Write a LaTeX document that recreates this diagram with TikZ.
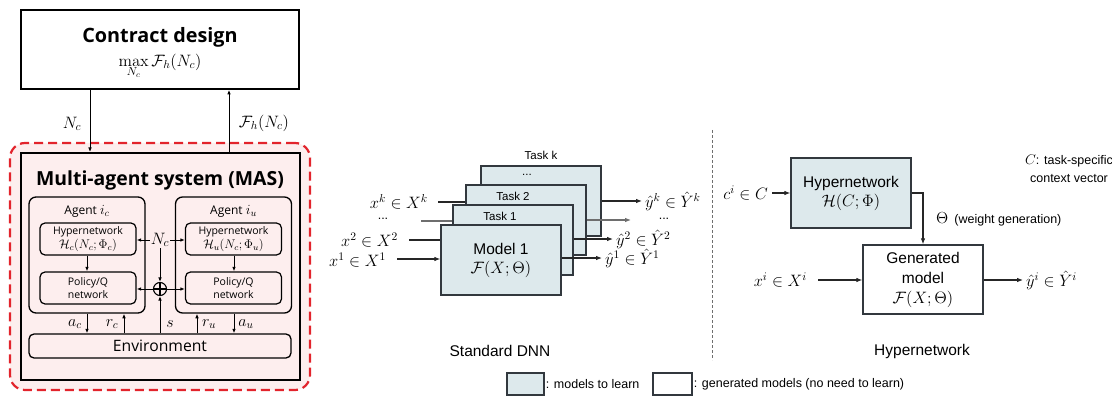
\RequirePackage{fix-cm}
\documentclass[tikz,border=0pt]{standalone}
\usepackage[no-math]{fontspec}
\setmainfont{Liberation Sans}
\newfontfamily\lf{Open Sans}
\usetikzlibrary{arrows.meta,backgrounds}
\definecolor{bluef}{RGB}{221,233,236}
\definecolor{boxc}{RGB}{50,56,62}
\definecolor{pinkf}{RGB}{253,238,238}
\definecolor{redd}{RGB}{226,36,44}
\definecolor{lineg}{RGB}{110,110,110}
\newcommand{\mfs}{\fontsize{12.5}{13.5}\selectfont}
\begin{document}
\begin{tikzpicture}[x=1pt,y=-1pt,
  arr/.style={-{Latex[length=6pt,width=4.6pt]},line width=1.1pt,draw=black!85},
  sarr/.style={-{Latex[length=4.6pt,width=3.6pt]},line width=1pt},
  learn/.style={draw=boxc,fill=bluef,line width=1.4pt,inner sep=1pt,minimum width=120pt,minimum height=70pt,align=center,font=\fontsize{15.5}{19}\selectfont},
  genbox/.style={draw=boxc,fill=white,line width=1.4pt,inner sep=1pt,minimum width=120pt,minimum height=69pt,align=center,font=\fontsize{15.5}{20}\selectfont},
  mlab/.style={inner sep=0pt,font=\fontsize{16.5}{18}\selectfont},
  dlab/.style={inner sep=0pt,font=\fontsize{12.5}{13}\selectfont},
  tlab/.style={inner sep=1pt,font=\fontsize{11.5}{13}\selectfont},
  agentbox/.style={draw,line width=1.3pt,rounded corners=7pt,minimum width=116pt,minimum height=116pt,inner sep=0},
  inbox/.style={draw,line width=1.2pt,fill=pinkf,rounded corners=5pt,minimum width=96pt,minimum height=32pt,inner sep=1pt,align=center,font=\lf\fontsize{10.5}{13.5}\selectfont},
  llab/.style={inner sep=0pt,font=\fontsize{16}{17}\selectfont},
  boldt/.style={inner sep=1pt,font=\lf\fontsize{19.4}{22}\selectfont\bfseries},
  smallt/.style={inner sep=1pt,font=\fontsize{12.5}{18}\selectfont}
]
\useasboundingbox (0,0) rectangle (1112,401);

% ================= LEFT: contract design + MAS =================
\node[draw,line width=1.6pt,minimum width=278pt,minimum height=79pt,inner sep=0] (cd) at (160,49.5) {};
\node[boldt,font=\lf\fontsize{19.8}{22}\selectfont\bfseries] (cdt) at (160,37) {Contract design};
\node[inner sep=1pt,font=\fontsize{16.5}{18}\selectfont] (cdf) at (160,66) {$\max\limits_{N_c}\mathcal{F}_h(N_c)$};

\node[draw=redd,fill=pinkf,line width=2.2pt,dash pattern=on 9pt off 5pt,rounded corners=15pt,minimum width=300pt,minimum height=247pt,inner sep=0] (masout) at (160,266.5) {};
\node[draw,line width=1.8pt,minimum width=279pt,minimum height=227pt,inner sep=0] (mas) at (160.5,266.5) {};
\node[boldt] (mast) at (160,180) {Multi-agent system (MAS)};

\node[agentbox] (ac) at (87,255) {};
\node[agentbox] (au) at (233.5,255) {};
\node[inner sep=1pt,font=\lf\fontsize{12}{14}\selectfont] (acl) at (87,211) {Agent {\fontsize{14}{14}\selectfont$i_c$}};
\node[inner sep=1pt,font=\lf\fontsize{12}{14}\selectfont] (aul) at (233.5,211) {Agent {\fontsize{14}{14}\selectfont$i_u$}};
\node[inbox] (hc) at (88,239) {Hypernetwork\\{\mfs$\mathcal{H}_c(N_c;\Phi_c)$}};
\node[inbox] (pc) at (88,288) {Policy/Q\\network};
\node[inbox] (hu) at (233.5,239) {Hypernetwork\\{\mfs$\mathcal{H}_u(N_c;\Phi_u)$}};
\node[inbox] (pu) at (233.5,288) {Policy/Q\\network};
\node[draw,line width=1.3pt,rounded corners=5pt,minimum width=262pt,minimum height=24pt,inner sep=0,font=\lf\fontsize{15.7}{17}\selectfont] (env) at (160,346) {Environment};

\node[inner sep=1pt,font=\fontsize{16.5}{17}\selectfont] (nc) at (160,240) {$N_c$};
\node[circle,draw,line width=1.1pt,minimum size=13pt,inner sep=0] (op) at (160,289) {};
\draw[line width=1.1pt] (op.north) -- (op.south) (op.west) -- (op.east);

\coordinate (xa) at (90,0);
\coordinate (xb) at (229,0);
\coordinate (xac) at (87,0);
\coordinate (xrc) at (124,0);
\coordinate (xs) at (160,0);
\coordinate (xru) at (197,0);
\coordinate (xau) at (234,0);

\draw[sarr] (cd.south -| xa) -- (mas.north -| xa);
\draw[sarr] (mas.north -| xb) -- (cd.south -| xb);
\node[inner sep=1pt,font=\fontsize{16.5}{17}\selectfont] (ncl) at (72,124) {$N_c$};
\node[inner sep=1pt,font=\fontsize{16.5}{17}\selectfont] (fhl) at (264,123) {$\mathcal{F}_h(N_c)$};

\draw[sarr] (nc) -- (nc -| hc.east);
\draw[sarr] (nc) -- (nc -| hu.west);
\draw[sarr] (nc) -- (op);
\draw[sarr] (op) -- (op -| pc.east);
\draw[sarr] (op) -- (op -| pu.west);
\draw[sarr] (env.north -| xs) -- (op);
\draw[sarr] (hc.south -| xac) -- (pc.north -| xac);
\draw[sarr] (hu.south -| xau) -- (pu.north -| xau);
\draw[sarr] (ac.south -| xac) -- (env.north -| xac);
\draw[sarr] (env.north -| xrc) -- (ac.south -| xrc);
\draw[sarr] (env.north -| xru) -- (au.south -| xru);
\draw[sarr] (au.south -| xau) -- (env.north -| xau);
\node[llab] (acn) at (75,324) {$a_c$};
\node[llab] (rcn) at (112,324) {$r_c$};
\node[llab] (sn) at (170,324) {$s$};
\node[llab] (run) at (209,324) {$r_u$};
\node[llab] (aun) at (246,324) {$a_u$};

% ================= MIDDLE: standard DNN =================
\node[learn] (tk) at (541,201) {};
\node[learn] (t2) at (526,220) {};
\node[learn] (t1) at (513,240) {};
\node[learn] (m1) at (501,260) {Model 1\\{\fontsize{16.5}{19}\selectfont$\mathcal{F}(X;\Theta)$}};
\node[tlab] (tkl) at (541,155) {Task k};
\node[tlab] (tkd) at (527,175) {...};
\node[tlab] (t2l) at (513,196) {Task 2};
\node[tlab] (t1l) at (500,216) {Task 1};

\node[mlab,anchor=east] (xk) at (428,202) {$x^k\in X^k$};
\node[dlab] (xd) at (383,219) {...};
\node[mlab,anchor=east] (x2) at (398,240) {$x^2\in X^2$};
\node[mlab,anchor=east] (x1) at (386,260) {$x^1\in X^1$};
\coordinate (xks) at (438,202);
\coordinate (xds) at (421,221);
\coordinate (x2s) at (409,240);
\coordinate (x1s) at (397,259);
\begin{scope}[on background layer]
\draw[arr] (xks) -- (xks -| tk.west);
\draw[arr,draw=lineg] (xds) -- (xds -| t2.west);
\draw[arr] (x2s) -- (x2s -| t1.west);
\end{scope}
\draw[arr] (x1s) -- (x1s -| m1.west);

\coordinate (yk) at (642,201);
\coordinate (yd) at (631,220);
\coordinate (y2) at (613,239);
\coordinate (y1) at (602,258);
\draw[arr] (tk.east |- yk) -- (yk);
\draw[arr,draw=lineg] (t2.east |- yd) -- (yd);
\draw[arr] (t1.east |- y2) -- (y2);
\draw[arr] (m1.east |- y1) -- (y1);
\node[mlab,anchor=west] (ykl) at (645,201) {$\hat{y}^k\in\hat{Y}^k$};
\node[dlab] (ydl) at (664,219) {...};
\node[mlab,anchor=west] (y2l) at (616,239) {$\hat{y}^2\in\hat{Y}^2$};
\node[mlab,anchor=west] (y1l) at (605,258) {$\hat{y}^1\in\hat{Y}^1$};

\node[inner sep=1pt,font=\fontsize{15.5}{18}\selectfont] (sdnn) at (500,351) {Standard DNN};

% divider
\coordinate (dvt) at (712,130);
\coordinate (dvb) at (712,360);
\draw[draw=lineg,line width=0.9pt,dash pattern=on 3pt off 2pt] (dvt) -- (dvb);

% ================= RIGHT: hypernetwork =================
\node[learn] (hn) at (851,193) {Hypernetwork\\{\fontsize{16.5}{19}\selectfont$\mathcal{H}(C;\Phi)$}};
\node[genbox] (gm) at (923,279.5) {Generated\\model\\{\fontsize{16.5}{20}\selectfont$\mathcal{F}(X;\Theta)$}};
\node[mlab,anchor=east] (ci) at (768,193) {$c^i\in C$};
\coordinate (cis) at (772,193);
\draw[arr] (cis) -- (hn.west);
\draw[arr] (hn.east) -| (gm.north);
\node[inner sep=1pt,anchor=west,font=\fontsize{16}{18}\selectfont] (th) at (935,219) {$\Theta$\hspace{6pt}{\fontsize{12.5}{14}\selectfont(weight generation)}};
\node[mlab,anchor=east] (xi) at (807,280) {$x^i\in X^i$};
\coordinate (xis) at (818,280);
\draw[arr] (xis) -- (gm.west |- xis);
\coordinate (yis) at (1023,280);
\draw[arr] (gm.east |- yis) -- (yis);
\node[mlab,anchor=west] (yil) at (1026,280) {$\hat{y}^i\in\hat{Y}^i$};
\node[smallt,align=center] (ctx) at (1069,169) {{\fontsize{14}{14}\selectfont$C$}: task-specific\\context vector};
\node[inner sep=1pt,font=\fontsize{15.5}{18}\selectfont] (hnl) at (922,351) {Hypernetwork};

% ================= legend =================
\node[draw=boxc,fill=bluef,line width=1.3pt,minimum width=37pt,minimum height=22pt,inner sep=0] (lg1) at (525.5,384) {};
\node[smallt,anchor=west] (lg1t) at (lg1.east) {: models to learn};
\node[draw=boxc,fill=white,line width=1.3pt,minimum width=39pt,minimum height=22pt,inner sep=0] (lg2) at (672.5,384) {};
\node[smallt,anchor=west] (lg2t) at (lg2.east) {: generated models (no need to learn)};
\end{tikzpicture}
\end{document}
